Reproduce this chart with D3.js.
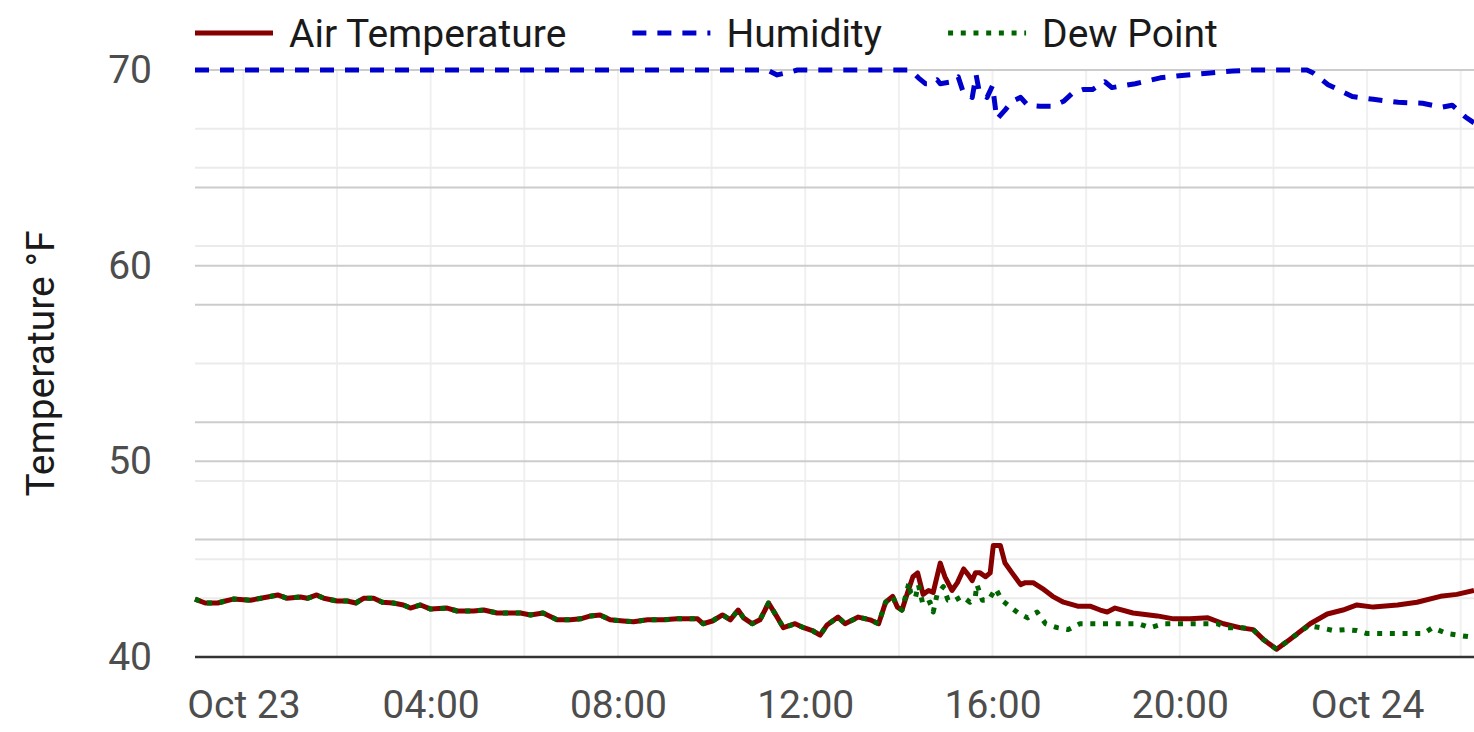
<!DOCTYPE html>
<meta charset="utf-8">
<script src="https://d3js.org/d3.v7.min.js"></script>
<style>
  body { margin: 0; background: #fff; }
  text { font-family: Roboto, "Noto Sans", sans-serif; }
</style>
<div id="my_dataviz"></div>
<script>

// minutes after Oct 23 00:00, values in °F
var airMinutes = [-62,-49,-33,-23,-13,9,31,44,56,73,82,94,103,120,133,144,154,167,178,192,205,214,227,240,261,274,295,308,325,338,355,368,384,402,419,432,445,457,470,487,500,518,538,556,582,589,601,614,624,634,641,652,662,673,684,692,707,718,730,739,748,762,771,788,803,814,823,832,838,844,852,858,864,871,878,884,893,899,908,915,923,929,934,938,944,951,957,961,970,976,985,996,1002,1012,1024,1037,1051,1069,1085,1098,1107,1117,1140,1171,1192,1213,1236,1256,1277,1294,1307,1324,1341,1367,1389,1409,1427,1448,1479,1504,1534,1555,1577];
var airTemp = [42.96,42.76,42.76,42.86,42.96,42.9,43.07,43.17,43.0,43.07,43.0,43.17,43.0,42.86,42.86,42.76,43.0,43.0,42.8,42.76,42.66,42.5,42.66,42.45,42.5,42.35,42.35,42.4,42.25,42.25,42.25,42.15,42.25,41.9,41.9,41.95,42.1,42.15,41.9,41.84,41.8,41.9,41.9,41.95,41.95,41.7,41.84,42.15,41.9,42.4,42.0,41.7,41.9,42.76,42.04,41.5,41.7,41.5,41.33,41.12,41.64,42.04,41.7,42.04,41.9,41.7,42.8,43.1,42.55,42.4,43.4,44.1,44.3,43.2,43.4,43.3,44.8,44.1,43.4,43.8,44.5,44.2,43.9,44.3,44.3,44.1,44.3,45.7,45.7,44.8,44.3,43.7,43.8,43.8,43.5,43.1,42.8,42.6,42.6,42.4,42.3,42.5,42.25,42.1,41.95,41.95,42.0,41.7,41.5,41.4,40.9,40.4,40.9,41.7,42.2,42.4,42.66,42.55,42.66,42.8,43.1,43.2,43.4];

var humMinutes = [-62,671,684,701,710,855,865,874,880,889,893,908,916,923,934,939,943,953,960,964,966,976,985,996,1005,1021,1037,1051,1062,1076,1088,1104,1113,1143,1175,1210,1239,1268,1294,1363,1371,1390,1421,1448,1480,1511,1536,1549,1566,1577];
var humidity = [70,70,69.75,69.9,70,70,69.6,69.3,69.3,69.5,69.3,69.4,69.65,68.8,68.6,69.75,68.9,68.6,69.2,67.95,67.5,67.95,68.4,68.6,68.2,68.15,68.15,68.4,68.8,69.0,69.0,69.4,69.1,69.3,69.6,69.75,69.85,69.95,70,70,69.85,69.25,68.65,68.5,68.35,68.3,68.1,68.2,67.6,67.3];

var dewMinutes = [-62,-49,-33,-23,-13,9,31,44,56,73,82,94,103,120,133,144,154,167,178,192,205,214,227,240,261,274,295,308,325,338,355,368,384,402,419,432,445,457,470,487,500,518,538,556,582,589,601,614,624,634,641,652,662,673,684,692,707,718,730,739,748,762,771,788,803,814,823,832,838,844,853,855,861,865,871,880,884,889,897,903,912,921,931,938,940,947,955,964,972,983,993,1005,1017,1028,1043,1057,1072,1089,1113,1133,1147,1162,1179,1213,1233,1248,1261,1280,1294,1307,1324,1341,1365,1380,1397,1413,1427,1440,1457,1512,1524,1542,1559,1577];
var dewPoint = [42.96,42.76,42.76,42.86,42.96,42.9,43.07,43.17,43.0,43.07,43.0,43.17,43.0,42.86,42.86,42.76,43.0,43.0,42.8,42.76,42.66,42.5,42.66,42.45,42.5,42.35,42.35,42.4,42.25,42.25,42.25,42.15,42.25,41.9,41.9,41.95,42.1,42.15,41.9,41.84,41.8,41.9,41.9,41.95,41.95,41.7,41.84,42.15,41.9,42.4,42.0,41.7,41.9,42.76,42.04,41.5,41.7,41.5,41.33,41.12,41.64,42.04,41.7,42.04,41.9,41.7,42.8,43.1,42.55,42.4,43.8,43.3,43.0,43.7,42.65,42.8,42.3,43.2,43.6,42.9,42.9,43.1,42.8,43.1,43.7,42.9,42.9,43.5,42.9,42.55,42.25,42.0,42.3,41.7,41.5,41.4,41.7,41.7,41.7,41.7,41.7,41.5,41.7,41.7,41.7,41.7,41.5,41.5,41.4,40.9,40.4,40.9,41.6,41.5,41.35,41.4,41.35,41.2,41.2,41.2,41.5,41.2,41.1,41.0];

var seriesNames = ["Air Temperature", "Humidity", "Dew Point"];
var yMajor = [40, 46, 50, 52, 58, 60, 64, 70];
var yMinor = [43, 45, 49, 55, 61, 65, 67];
var yLabels = [40, 50, 60, 70];

var styles = [
  {color: "#870000", dash: null, width: 5},
  {color: "#0000cd", dash: "14,11", width: 5},
  {color: "#006400", dash: "5,7.7", width: 5}
];

var W = 1474, H = 732;
var pLeft = 195, pRight = 1474, pTop = 70, pBottom = 657;

var svg = d3.select("#my_dataviz")
  .append("svg")
    .attr("width", W)
    .attr("height", H);

var base = new Date(2023, 9, 23, 0, 0);
function toDate(m) { return new Date(base.getTime() + m * 60000); }

function rows(mins, vals) {
  return mins.map(function(m, i) { return {t: toDate(m), v: vals[i]}; });
}
var data = [rows(airMinutes, airTemp), rows(humMinutes, humidity), rows(dewMinutes, dewPoint)];

var x = d3.scaleTime()
  .domain(d3.extent(airMinutes).map(toDate))
  .range([pLeft, pRight]);

var y = d3.scaleLinear()
  .domain([40, 70])
  .range([pBottom, pTop]);

// vertical grid every 2 hours
svg.append("g")
  .selectAll("line")
  .data(x.ticks(d3.timeHour.every(2)))
  .enter().append("line")
    .attr("x1", function(d) { return x(d); })
    .attr("x2", function(d) { return x(d); })
    .attr("y1", pTop)
    .attr("y2", pBottom)
    .attr("stroke", "#f0f0f0")
    .attr("stroke-width", 2);

// horizontal grid
svg.append("g")
  .selectAll("line")
  .data(yMinor)
  .enter().append("line")
    .attr("x1", pLeft).attr("x2", pRight)
    .attr("y1", function(d) { return y(d); })
    .attr("y2", function(d) { return y(d); })
    .attr("stroke", "#ebebeb")
    .attr("stroke-width", 2);

svg.append("g")
  .selectAll("line")
  .data(yMajor.filter(function(d) { return d > 40; }))
  .enter().append("line")
    .attr("x1", pLeft).attr("x2", pRight)
    .attr("y1", function(d) { return y(d); })
    .attr("y2", function(d) { return y(d); })
    .attr("stroke", "#cccccc")
    .attr("stroke-width", 2);

// bottom axis line
svg.append("line")
  .attr("x1", pLeft).attr("x2", pRight)
  .attr("y1", y(40)).attr("y2", y(40))
  .attr("stroke", "#333")
  .attr("stroke-width", 2.5);

// Y labels
var yAxis = svg.append("g")
  .attr("transform", "translate(152,0)")
  .call(d3.axisLeft(y).tickValues(yLabels).tickSize(0).tickPadding(0));
yAxis.select(".domain").remove();
yAxis.selectAll("text")
  .attr("font-size", 39)
  .attr("font-family", "Roboto")
  .attr("fill", "#4d4d4d");

// X labels
var fmt = function(d) {
  return d.getHours() === 0 ? d3.timeFormat("%b %d")(d) : d3.timeFormat("%H:%M")(d);
};
var xAxis = svg.append("g")
  .attr("transform", "translate(0,690)")
  .call(d3.axisBottom(x).ticks(d3.timeHour.every(4)).tickFormat(fmt).tickSize(0).tickPadding(0));
xAxis.select(".domain").remove();
xAxis.selectAll("text")
  .attr("font-size", 39)
  .attr("font-family", "Roboto")
  .attr("fill", "#4d4d4d");

// axis title
svg.append("text")
  .attr("transform", "translate(54," + ((pTop + pBottom) / 2) + ")rotate(-90)")
  .attr("text-anchor", "middle")
  .attr("font-size", 39)
  .attr("fill", "#1a1a1a")
  .text("Temperature °F");

// lines
var line = d3.line()
  .x(function(d) { return x(d.t); })
  .y(function(d) { return y(d.v); });

data.forEach(function(s, i) {
  svg.append("path")
    .datum(s)
    .attr("fill", "none")
    .attr("stroke", styles[i].color)
    .attr("stroke-width", styles[i].width)
    .attr("stroke-dasharray", styles[i].dash)
    .attr("stroke-linejoin", "round")
    .attr("d", line);
});

// legend
var lx = pLeft;
seriesNames.forEach(function(name, i) {
  var g = svg.append("g").attr("transform", "translate(" + lx + ",33)");
  g.append("line")
    .attr("x1", 0).attr("x2", 78)
    .attr("stroke", styles[i].color)
    .attr("stroke-width", styles[i].width)
    .attr("stroke-dasharray", styles[i].dash);
  var t = g.append("text")
    .attr("x", 94)
    .attr("y", 13.5)
    .attr("font-size", 39)
    .attr("fill", "#1a1a1a")
    .text(name);
  lx += 94 + t.node().getComputedTextLength() + 66;
});

</script>
